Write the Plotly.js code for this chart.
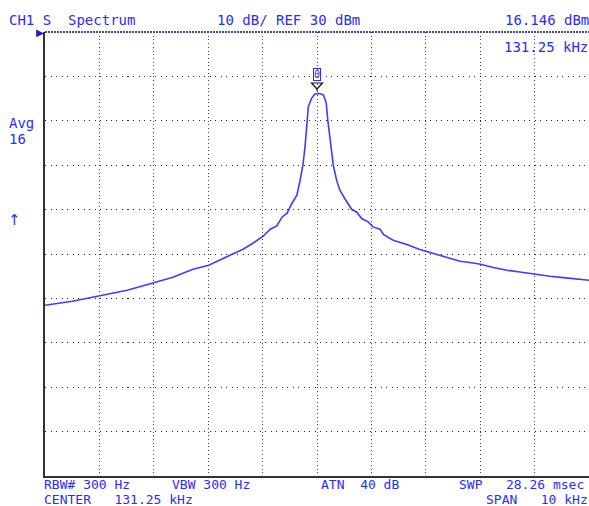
<!DOCTYPE html>
<html>
<head>
<meta charset="utf-8">
<script src="https://cdn.plot.ly/plotly-3.0.1.min.js"></script>
<style>html,body{margin:0;padding:0;background:#fff;}#chart{width:589px;height:506px;}</style>
</head>
<body>
<div id="chart"></div>
<script>
// Spectrum trace (frequency in kHz, level in dBm)
const freqKHz = [126.25,126.75,127.26,127.76,128.25,128.60,128.97,129.26,129.65,129.89,130.07,130.26,130.39,130.51,130.61,130.70,130.79,130.88,130.94,130.99,131.03,131.06,131.09,131.15,131.21,131.25,131.30,131.37,131.42,131.45,131.49,131.55,131.61,131.67,131.76,131.89,131.98,132.07,132.19,132.28,132.41,132.47,132.65,132.90,133.14,133.45,133.69,133.88,134.06,134.26,134.49,134.74,134.98,135.27,135.53,135.78,136.02,136.25];
const levelDbm = [-31.56,-30.65,-29.41,-28.17,-26.48,-25.24,-23.44,-22.54,-20.28,-18.93,-17.58,-16.0,-14.42,-13.67,-11.65,-10.81,-8.56,-6.75,-3.37,-0.06,4.14,9.41,13.16,15.05,16.02,16.146,16.13,15.79,13.99,9.93,5.65,-0.06,-3.37,-5.63,-7.50,-9.98,-10.52,-12.01,-12.77,-13.90,-14.42,-15.61,-16.90,-17.87,-19.00,-20.12,-21.03,-21.63,-21.93,-22.31,-23.05,-23.66,-24.05,-24.57,-25.02,-25.31,-25.54,-25.92];

// Axis settings
const centerKHz = 131.25;
const spanKHz = 10;
const refLevelDbm = 30;
const dbPerDiv = 10;
const divisions = 10;

// Marker
const markerFreq = 131.25;
const markerLevel = 16.146;

// Header / footer labels
const headerLeft = "CH1 S  Spectrum";
const headerMid = "10 dB/ REF 30 dBm";
const markerLevelLabel = "16.146 dBm";
const markerFreqLabel = "131.25 kHz";
const sideLabels = ["Avg", "16", "\u2191"];
const footerRow1 = ["RBW# 300 Hz", "VBW 300 Hz", "ATN  40 dB", "SWP   28.26 msec"];
const footerRow2 = ["CENTER   131.25 kHz", "SPAN   10 kHz"];

const W = 589, H = 506;
const L = 45, R = 0, T = 32, B = 30;
const pw = W - L - R, ph = H - T - B;
const blue = "#2b2bff";
const FONT = "DejaVu Sans Mono, Liberation Mono, monospace";
const fs = 14;

function px(x){ return (x - L) / pw; }
function py(y){ return 1 - (y - T) / ph; }
function ann(text, x, y, anchor, opts){
  return Object.assign({
    text: text, xref: "paper", yref: "paper", x: px(x), y: py(y),
    xanchor: anchor || "left", yanchor: "middle", showarrow: false,
    borderpad: 0, borderwidth: 0,
    font: {family: FONT, size: fs, color: blue}
  }, opts || {});
}
const ffs = {font: {family: FONT, size: 13, color: blue}};

const annotations = [
  ann(headerLeft, 9, 20, "left"),
  ann(headerMid, 217, 20, "left"),
  ann(markerLevelLabel, 589, 20, "right"),
  ann(markerFreqLabel, 588, 47, "right"),
  ann(sideLabels[0], 9, 123, "left"),
  ann(sideLabels[1], 9, 139, "left"),
  ann(sideLabels[2], 8, 220, "left", {font: {family: "DejaVu Sans", size: 15, color: blue}}),
  ann(footerRow1[0], 44, 484, "left", ffs),
  ann(footerRow1[1], 172, 484, "left", ffs),
  ann(footerRow1[2], 321, 484, "left", ffs),
  ann(footerRow1[3], 459, 484, "left", ffs),
  ann(footerRow2[0], 44, 499.5, "left", ffs),
  ann(footerRow2[1], 486, 499.5, "left", ffs),
  ann("\u25B6", 40, 32, "center", {font: {family: "DejaVu Sans", size: 10, color: "#1a1ad0"}}),
  // marker number box, anchored at the marker data point
  {text: "0", xref: "x", yref: "y", x: markerFreq, y: markerLevel, xanchor: "center", yanchor: "bottom",
   showarrow: false, yshift: 13, borderpad: 0, borderwidth: 1, bordercolor: blue,
   font: {family: FONT, size: 10, color: blue}}
];

const trace = {
  x: freqKHz, y: levelDbm, type: "scatter", mode: "lines",
  line: {color: "#3d3dff", width: 1.6},
  hoverinfo: "skip"
};

const layout = {
  width: W, height: H,
  margin: {l: L, r: R, t: T, b: B, pad: 0},
  paper_bgcolor: "#fff", plot_bgcolor: "#fff",
  showlegend: false,
  xaxis: {
    range: [centerKHz - spanKHz/2, centerKHz + spanKHz/2],
    tick0: centerKHz - spanKHz/2, dtick: spanKHz/divisions,
    showticklabels: false, ticks: "", zeroline: false,
    showgrid: true, gridcolor: "#444", gridwidth: 1, griddash: "1px,2.7px",
    showline: true, linecolor: "#333", linewidth: 2
  },
  yaxis: {
    range: [refLevelDbm - dbPerDiv*divisions, refLevelDbm],
    tick0: refLevelDbm, dtick: dbPerDiv,
    showticklabels: false, ticks: "", zeroline: false,
    showgrid: true, gridcolor: "#222", gridwidth: 1, griddash: "1px,4.5px",
    showline: true, linecolor: "#333", linewidth: 2
  },
  shapes: [
    {type: "line", xref: "paper", yref: "paper", x0: 0, x1: 1, y0: 1, y1: 1,
     line: {color: "#4a4a90", width: 2, dash: "2px,1px"}},
    // marker triangle, pixel-sized, anchored at the marker data point
    {type: "path", xref: "x", yref: "y", xsizemode: "pixel", ysizemode: "pixel",
     xanchor: markerFreq, yanchor: markerLevel,
     path: "M-5.5,10.5 L5.5,10.5 L0,4.5 Z M0,4.5 L0,2.5",
     line: {color: "#111", width: 1.2}, fillcolor: "rgba(0,0,0,0)"}
  ],
  annotations: annotations
};

Plotly.newPlot("chart", [trace], layout, {displayModeBar: false, staticPlot: true});
</script>
</body>
</html>
